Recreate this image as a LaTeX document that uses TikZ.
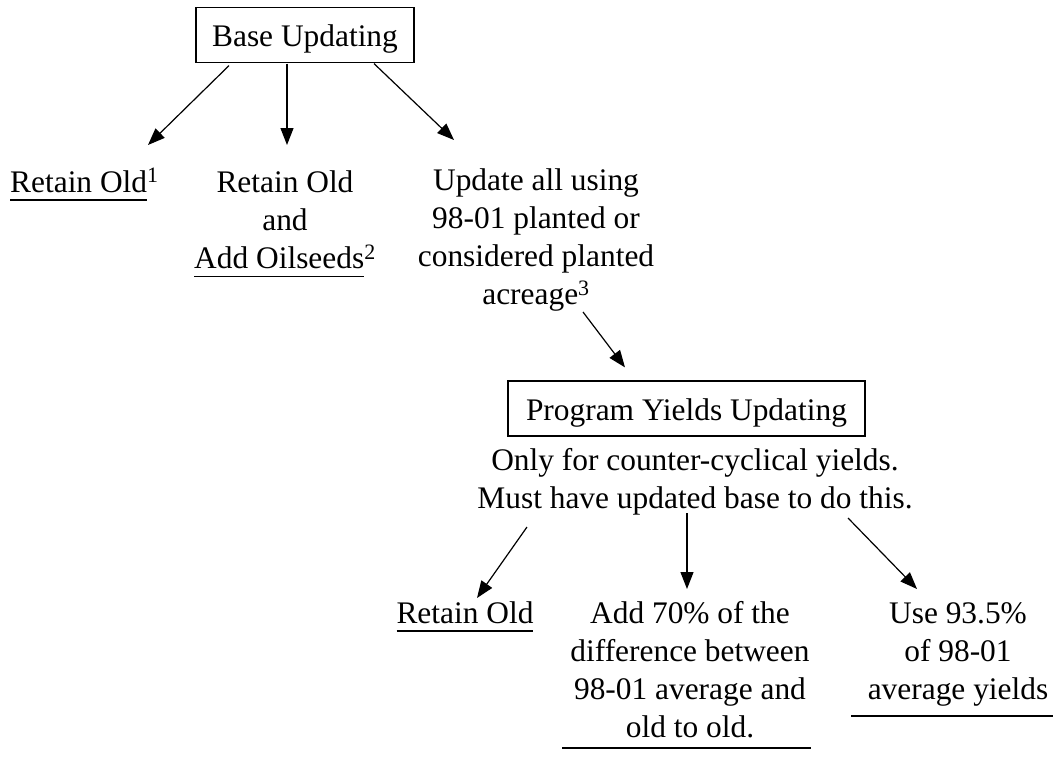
\documentclass[tikz,border=0pt]{standalone}
\usepackage{fontspec}
\setmainfont{Liberation Serif}
\usetikzlibrary{arrows.meta,calc}
\newcommand{\myul}[1]{\setbox0\hbox{#1}\rlap{\rule[-8.5pt]{\wd0}{1.2pt}}\box0}
\newcommand{\fstrut}{\rule{0pt}{26pt}}
\begin{document}
\begin{tikzpicture}[x=1pt,y=-1pt, font=\fontsize{31.4}{38}\selectfont,
  arr/.style={line width=1.2pt, -{Triangle[length=17pt,width=13pt]}},
  boxn/.style={draw, line width=1.2pt, inner sep=0pt, text height=39pt, text depth=16pt},
  txt/.style={inner sep=0pt, align=center},
  bline/.style={line width=1.2pt}]
\useasboundingbox (0,0) rectangle (1055,771);
\node[boxn, minimum width=218pt, anchor=base] (base) at (305,46.5) {Base Updating};
\node[boxn, minimum width=357pt, anchor=base] (prog) at (686.5,420) {Program Yields Updating};

\node[txt, anchor=base west] (rold1) at (10,192) {\myul{Retain Old}\textsuperscript{1}};
\node[txt, anchor=north] (rold2) at (285,166) {\fstrut Retain Old\\and\\\myul{Add Oilseeds}\textsuperscript{2}};
\node[txt, anchor=north] (update) at (536,164) {\fstrut Update all using\\98-01 planted or\\considered planted\\acreage\textsuperscript{3}};
\node[txt, anchor=north] (desc) at (695,444) {\fstrut Only for counter-cyclical yields.\\Must have updated base to do this.};
\node[txt, anchor=base] (rold3) at (465,623) {\myul{Retain Old}};
\node[txt, anchor=north] (add) at (690,597) {\fstrut Add 70\% of the\\difference between\\98-01 average and\\old to old.};
\node[txt, anchor=north] (use) at (958,597) {\fstrut Use 93.5\%\\of 98-01\\average yields};

\draw[arr] ($(base.south)+(-76,2.5)$) -- ($(rold1.base west)+(138,-47)$);
\draw[arr] ($(base.south)+(-18,0.5)$) -- ($(rold2.north)+(2,-21)$);
\draw[arr] ($(base.south)+(69,0.5)$) -- ($(update.north)+(-82,-24)$);
\draw[arr] ($(update.north)+(47,148)$) -- ($(prog.north)+(-61.5,-13)$);
\draw[arr] ($(desc.north)+(-168,83)$) -- ($(rold3.base)+(12,-25)$);
\draw[arr] ($(desc.north)+(-8,69)$) -- ($(add.north)+(-3,-8)$);
\draw[arr] ($(desc.north)+(153,74)$) -- ($(use.north)+(-41,-8)$);

\draw[bline] ($(add.north)+(-128,151)$) -- ($(add.north)+(121,151)$);
\draw[bline] ($(use.north)+(-107,119)$) -- ($(use.north)+(95,119)$);
\end{tikzpicture}
\end{document}
